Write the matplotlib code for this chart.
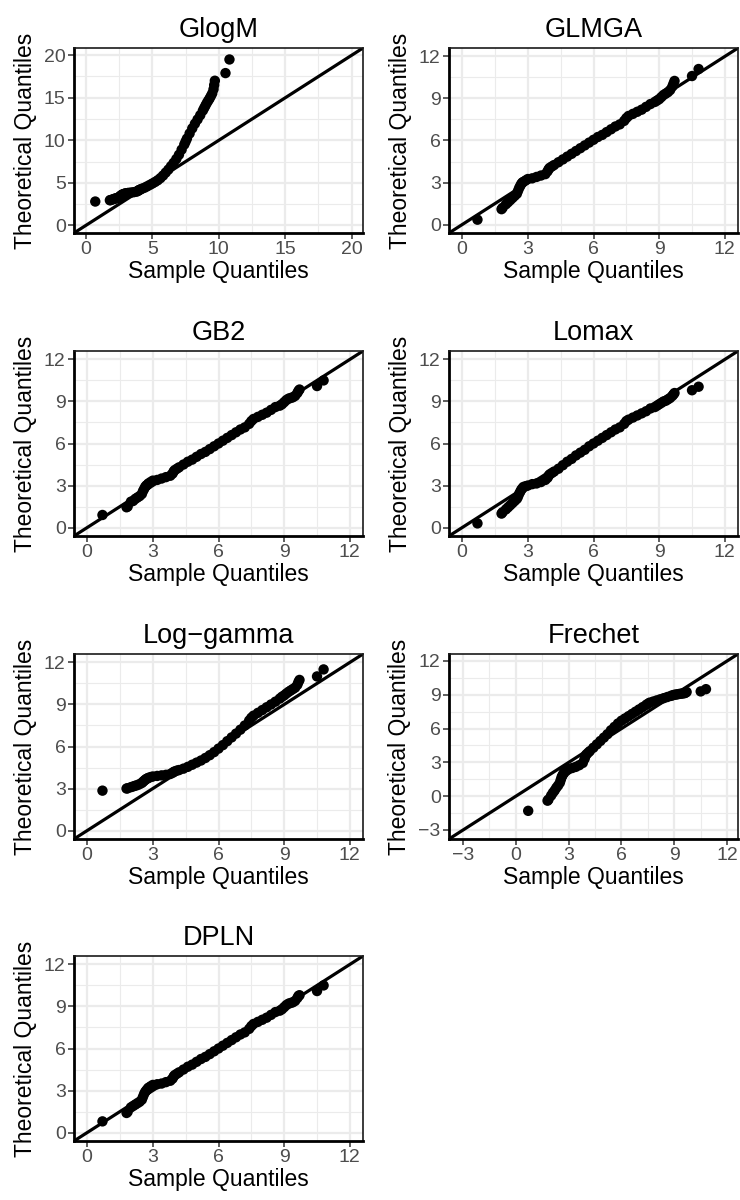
import matplotlib
matplotlib.use("Agg")
import matplotlib.pyplot as plt
import numpy as np

plt.rcParams['font.family'] = ['Liberation Sans', 'DejaVu Sans']

# sample quantiles (shared by every panel)
sample_q = [0.7, 1.8, 1.85, 2.0, 2.1, 2.2, 2.3, 2.4, 2.5, 2.55, 2.6, 2.65, 2.7, 2.75,
            2.8, 2.9, 3.0, 3.2, 3.4, 3.6, 3.8, 3.9, 3.95, 4.0, 4.1, 4.2, 4.4, 4.6,
            4.8, 5.0, 5.2, 5.4, 5.6, 5.8, 6.0, 6.2, 6.4, 6.6, 6.8, 7.0, 7.2, 7.4,
            7.5, 7.6, 7.8, 8.0, 8.2, 8.4, 8.6, 8.8, 8.9, 9.0, 9.1, 9.2, 9.3, 9.4,
            9.5, 9.6, 9.65, 9.7, 10.5, 10.8]

# theoretical quantiles of each fitted model
glogm = [2.8, 2.95, 2.97, 3.05, 3.1, 3.15, 3.2, 3.25, 3.3, 3.38, 3.45, 3.52, 3.58, 3.62,
         3.66, 3.72, 3.78, 3.82, 3.86, 3.9, 3.96, 4.04, 4.1, 4.15, 4.22, 4.3, 4.42, 4.58,
         4.75, 4.92, 5.1, 5.3, 5.55, 5.85, 6.2, 6.55, 6.95, 7.35, 7.8, 8.3, 8.9, 9.5,
         9.85, 10.2, 10.8, 11.4, 11.95, 12.45, 12.95, 13.5, 13.8, 14.1, 14.4, 14.65, 14.9, 15.2,
         15.5, 16.0, 16.5, 17.0, 17.9, 19.5]
glmga = [0.35, 1.1, 1.2, 1.45, 1.6, 1.75, 1.9, 2.05, 2.2, 2.4, 2.6, 2.75, 2.9, 3.0,
         3.05, 3.15, 3.25, 3.3, 3.4, 3.5, 3.6, 3.8, 3.95, 4.05, 4.15, 4.25, 4.45, 4.65,
         4.85, 5.05, 5.25, 5.45, 5.65, 5.85, 6.05, 6.25, 6.4, 6.6, 6.8, 7.0, 7.15, 7.4,
         7.6, 7.75, 7.9, 8.05, 8.2, 8.4, 8.6, 8.75, 8.85, 8.95, 9.1, 9.25, 9.35, 9.45,
         9.6, 9.85, 10.05, 10.25, 10.6, 11.1]
gb2 = [0.9, 1.45, 1.5, 1.85, 1.9, 2.05, 2.15, 2.25, 2.4, 2.6, 2.75, 2.9, 3.0, 3.05,
       3.15, 3.25, 3.35, 3.4, 3.5, 3.6, 3.7, 3.85, 4.0, 4.1, 4.2, 4.3, 4.5, 4.7,
       4.85, 5.05, 5.25, 5.4, 5.6, 5.8, 6.0, 6.2, 6.4, 6.6, 6.8, 7.0, 7.15, 7.4,
       7.6, 7.75, 7.9, 8.05, 8.2, 8.4, 8.6, 8.7, 8.8, 8.95, 9.1, 9.2, 9.25, 9.3,
       9.4, 9.6, 9.75, 9.85, 10.1, 10.5]
lomax = [0.3, 1.0, 1.1, 1.3, 1.45, 1.6, 1.75, 1.9, 2.05, 2.2, 2.4, 2.55, 2.7, 2.8,
         2.9, 2.95, 3.0, 3.1, 3.15, 3.25, 3.4, 3.55, 3.7, 3.8, 3.9, 4.0, 4.2, 4.45,
         4.7, 4.9, 5.15, 5.35, 5.55, 5.8, 6.0, 6.2, 6.4, 6.6, 6.8, 7.0, 7.15, 7.4,
         7.6, 7.7, 7.85, 8.0, 8.15, 8.3, 8.5, 8.6, 8.7, 8.8, 8.9, 9.0, 9.05, 9.15,
         9.25, 9.4, 9.5, 9.6, 9.8, 10.05]
loggamma = [2.85, 3.0, 3.02, 3.1, 3.15, 3.2, 3.25, 3.32, 3.4, 3.48, 3.55, 3.62, 3.68, 3.72,
            3.76, 3.82, 3.86, 3.9, 3.94, 3.98, 4.04, 4.12, 4.18, 4.22, 4.28, 4.32, 4.42, 4.55,
            4.7, 4.85, 5.0, 5.18, 5.38, 5.6, 5.85, 6.1, 6.38, 6.65, 6.92, 7.2, 7.5, 7.85,
            8.05, 8.2, 8.4, 8.6, 8.8, 9.0, 9.2, 9.42, 9.55, 9.65, 9.78, 9.9, 10.0, 10.1,
            10.2, 10.4, 10.6, 10.75, 11.0, 11.5]
frechet = [-1.3, -0.4, -0.3, 0.05, 0.3, 0.5, 0.75, 0.95, 1.2, 1.45, 1.7, 1.85, 2.0, 2.1,
           2.2, 2.3, 2.4, 2.5, 2.6, 2.75, 2.95, 3.3, 3.55, 3.7, 3.85, 4.0, 4.3, 4.6,
           4.9, 5.2, 5.5, 5.85, 6.15, 6.45, 6.7, 6.9, 7.1, 7.3, 7.5, 7.7, 7.9, 8.1,
           8.2, 8.3, 8.4, 8.5, 8.6, 8.7, 8.8, 8.9, 8.95, 9.0, 9.02, 9.05, 9.08, 9.1,
           9.12, 9.15, 9.2, 9.25, 9.3, 9.5]
dpln = [0.8, 1.4, 1.48, 1.8, 1.9, 2.0, 2.1, 2.2, 2.35, 2.55, 2.75, 2.9, 3.0, 3.1,
        3.2, 3.3, 3.4, 3.45, 3.5, 3.6, 3.7, 3.85, 4.0, 4.1, 4.2, 4.3, 4.5, 4.7,
        4.85, 5.05, 5.25, 5.4, 5.6, 5.8, 6.0, 6.2, 6.4, 6.6, 6.8, 7.0, 7.15, 7.4,
        7.6, 7.75, 7.9, 8.05, 8.2, 8.4, 8.6, 8.7, 8.8, 8.95, 9.1, 9.2, 9.25, 9.3,
        9.4, 9.6, 9.75, 9.8, 10.1, 10.5]

panel_names = ["GlogM", "GLMGA", "GB2", "Lomax", "Log\u2212gamma", "Frechet", "DPLN"]
panel_data = [glogm, glmga, gb2, lomax, loggamma, frechet, dpln]
panel_breaks = [[0, 5, 10, 15, 20], [0, 3, 6, 9, 12], [0, 3, 6, 9, 12], [0, 3, 6, 9, 12],
                [0, 3, 6, 9, 12], [-3, 0, 3, 6, 9, 12], [0, 3, 6, 9, 12]]
panel_lims = [(-0.9, 20.85), (-0.6, 12.6), (-0.6, 12.6), (-0.6, 12.6),
              (-0.6, 12.6), (-3.8, 12.62), (-0.6, 12.6)]

W, H = 740, 1200
col_left = [74, 449]
panel_w = 289
row_top = [48, 351, 654, 956]
panel_h = 185

fig = plt.figure(figsize=(W / 100, H / 100), dpi=100)

for i, name in enumerate(panel_names):
    r, c = divmod(i, 2)
    x0 = col_left[c]
    y0 = row_top[r]
    ax = fig.add_axes([x0 / W, 1 - (y0 + panel_h) / H, panel_w / W, panel_h / H])
    lo, hi = panel_lims[i]
    brk = panel_breaks[i]
    step = brk[1] - brk[0]
    minor = [b + step / 2 for b in brk if lo < b + step / 2 < hi]
    ax.set_xticks(brk)
    ax.set_yticks(brk)
    ax.set_xticks(minor, minor=True)
    ax.set_yticks(minor, minor=True)
    ax.grid(True, which='major', color='#EBEBEB', lw=1.6, zorder=0)
    ax.grid(True, which='minor', color='#EBEBEB', lw=0.8, zorder=0)
    ax.set_axisbelow(True)
    ax.tick_params(which='minor', length=0)
    ax.tick_params(which='major', direction='out', length=4, width=1.1,
                   color='#333333', labelcolor='#4D4D4D', labelsize=14, pad=2)

    ax.axline((0, 0), slope=1, color='black', lw=2.3, zorder=2)
    ax.scatter(sample_q, panel_data[i], s=56, color='black', edgecolors='none',
               zorder=3, clip_on=True)
    ax.set_xlim(lo, hi)
    ax.set_ylim(lo, hi)

    for side in ['top', 'right']:
        ax.spines[side].set_color('#1A1A1A')
        ax.spines[side].set_linewidth(1.2)
    for side in ['left', 'bottom']:
        ax.spines[side].set_color('black')
        ax.spines[side].set_linewidth(2.0)

    ax.set_title(name, fontsize=19.5, pad=8)
    ax.set_xlabel("Sample Quantiles", fontsize=16.5, labelpad=1)
    ax.set_ylabel("Theoretical Quantiles", fontsize=16.5, labelpad=5)

fig.savefig("out.png", dpi=100)
